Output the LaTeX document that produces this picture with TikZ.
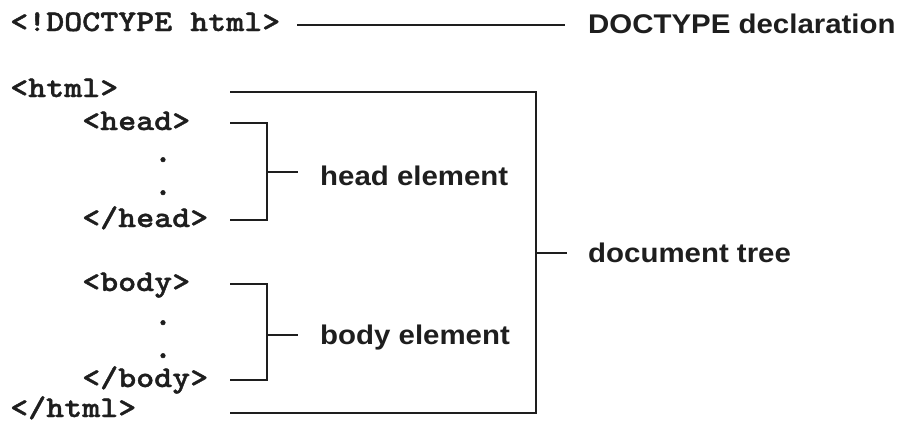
\documentclass[tikz,border=0pt]{standalone}
\usepackage{fontspec}
\setmainfont{Liberation Sans}
\newfontfamily\codefont{lmmonolt10-bold.otf}[FakeBold=1.2]
\definecolor{ink}{HTML}{1E1E1E}
\newcommand\monox[1]{\scalebox{1.143}[1]{#1}}
\newcommand\labx[1]{\scalebox{1.09}[1]{#1}}
\begin{document}
\begin{tikzpicture}[x=1pt,y=-1pt,
  code/.style={font=\fontsize{30}{30}\selectfont\codefont, text=ink, inner sep=0pt, anchor=base west},
  vdot/.style={font=\fontsize{34}{34}\selectfont\codefont, text=ink, inner sep=0pt, anchor=base},
  lab/.style={font=\fontsize{27}{27}\selectfont\bfseries, text=ink, inner sep=0pt, anchor=base west},
  wire/.style={draw=ink, line width=2.6pt, line join=miter}]
\useasboundingbox (0,0) rectangle (900,423);
% code lines
\node[code] (doctype) at (10,31) {\monox{<!DOCTYPE html>}};
\node[code] (html) at (10,97) {\monox{<html>}};
\node[code] (head) at (82,130) {\monox{<head>}};
\node[vdot] (hd1) at (163,162) {.};
\node[vdot] (hd2) at (163,195) {.};
\node[code] (headend) at (82,227) {\monox{</head>}};
\node[code] (body) at (82,291) {\monox{<body>}};
\node[vdot] (bd1) at (163,325) {.};
\node[vdot] (bd2) at (163,358) {.};
\node[code] (bodyend) at (82,387) {\monox{</body>}};
\node[code] (htmlend) at (10,417) {\monox{</html>}};
% labels
\node[lab] (dlab) at (588,33) {\labx{DOCTYPE declaration}};
\node[lab] (hlab) at (320,185) {\labx{head element}};
\node[lab] (blab) at (320,344) {\labx{body element}};
\node[lab] (tlab) at (588,262) {\labx{document tree}};
% connector coordinates
\coordinate (d1) at (297,25);
\coordinate (d2) at (565,25);
\coordinate (t1) at (230,92);
\coordinate (t2) at (536,92);
\coordinate (t3) at (536,413);
\coordinate (t4) at (230,413);
\coordinate (tm) at (536,253);
\coordinate (tt) at (567,253);
\coordinate (h1) at (230,123);
\coordinate (h2) at (267,123);
\coordinate (h3) at (267,220);
\coordinate (h4) at (230,220);
\coordinate (hm) at (267,172);
\coordinate (ht) at (298,172);
\coordinate (b1) at (230,284);
\coordinate (b2) at (267,284);
\coordinate (b3) at (267,380);
\coordinate (b4) at (230,380);
\coordinate (bm) at (267,335);
\coordinate (bt) at (298,335);
% connectors
\draw[wire] (d1) -- (d2);
\draw[wire] (t1) -- (t2) -- (t3) -- (t4);
\draw[wire] (tm) -- (tt);
\draw[wire] (h1) -- (h2) -- (h3) -- (h4);
\draw[wire] (hm) -- (ht);
\draw[wire] (b1) -- (b2) -- (b3) -- (b4);
\draw[wire] (bm) -- (bt);
\end{tikzpicture}
\end{document}
